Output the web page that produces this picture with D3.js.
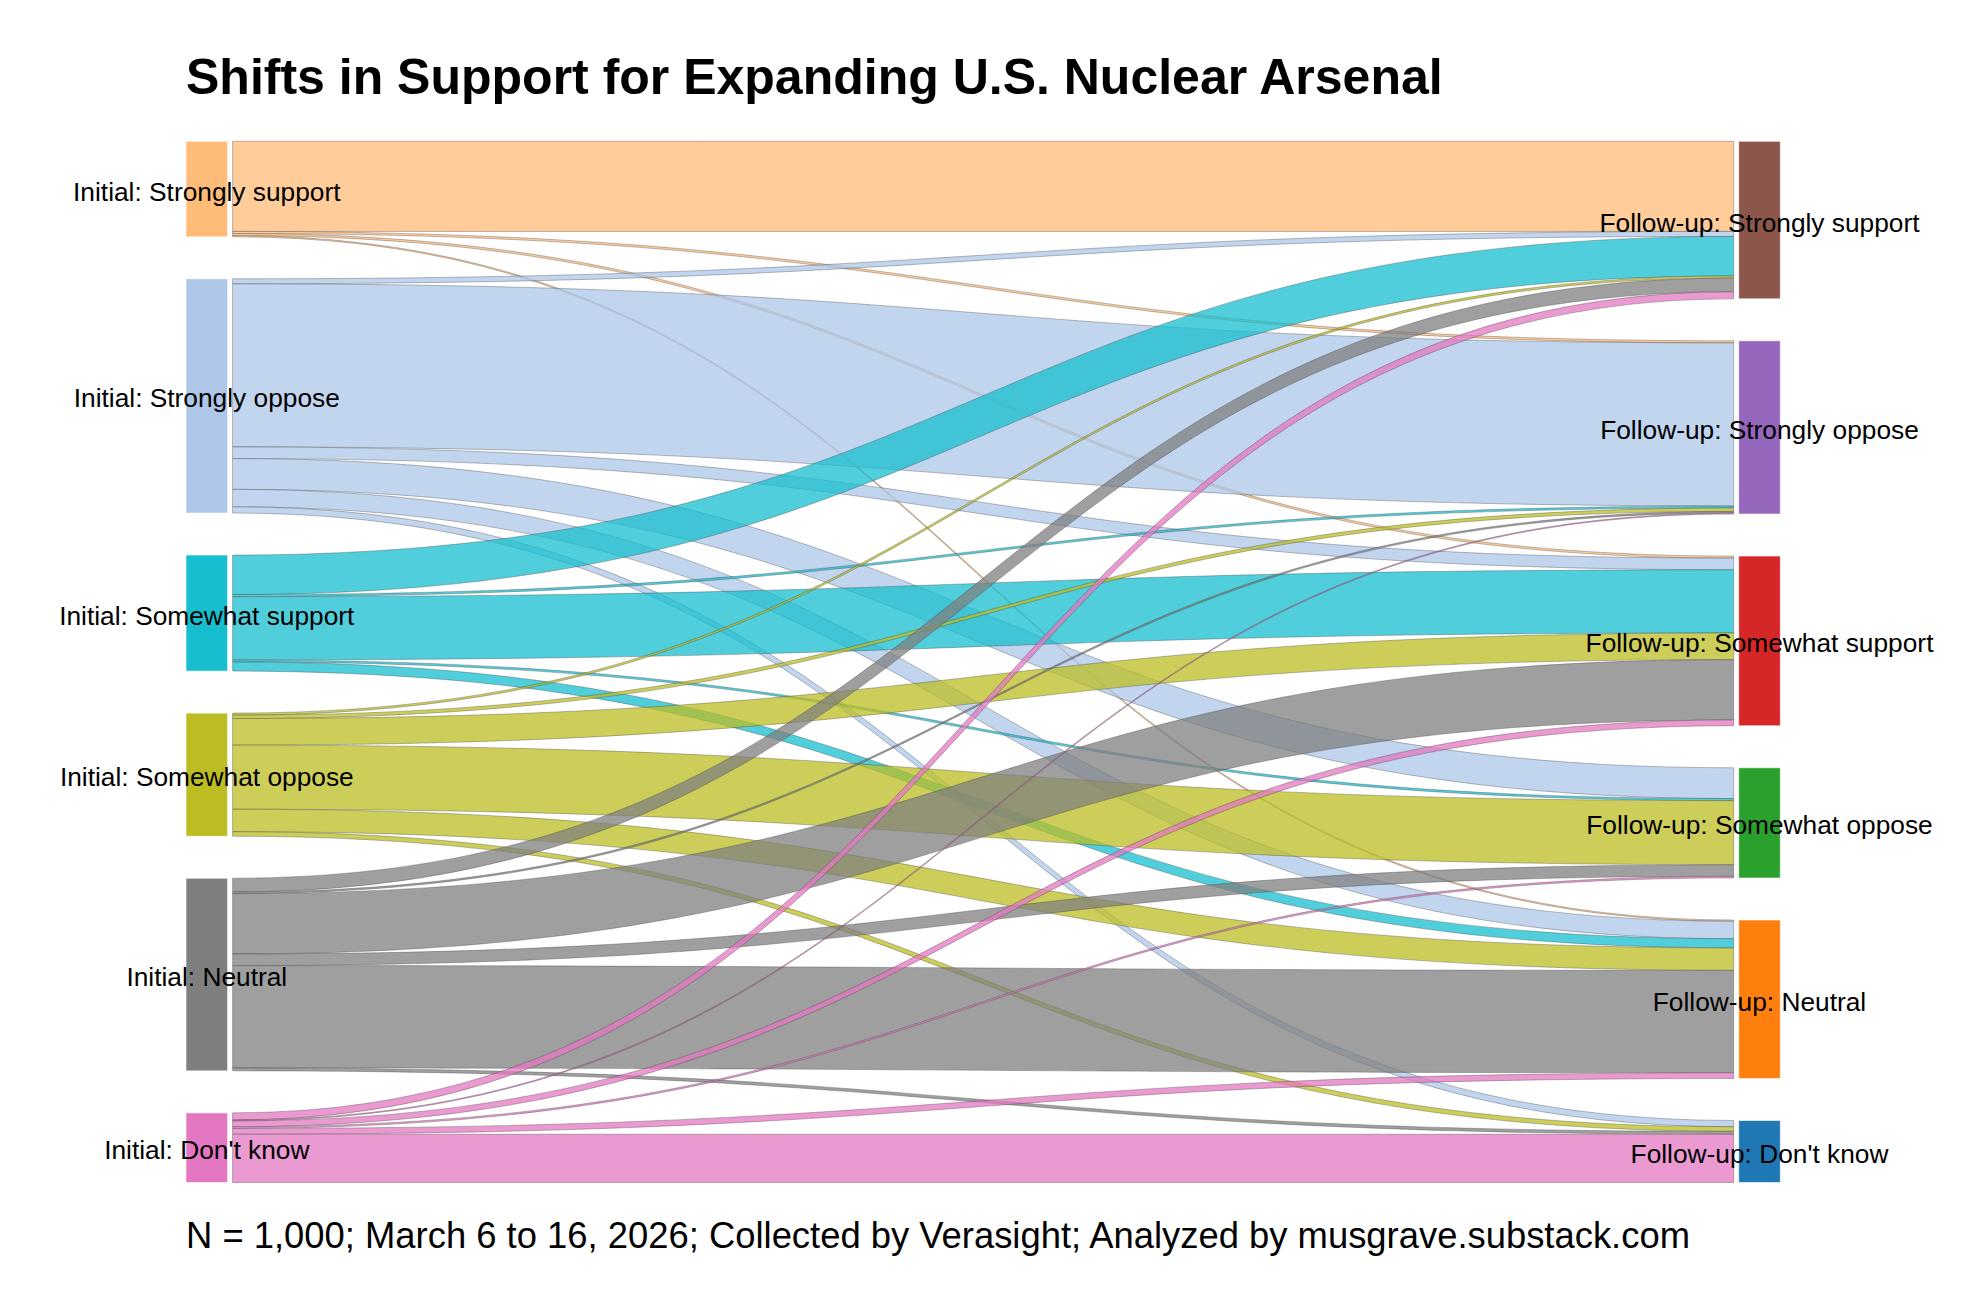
<!DOCTYPE html>
<html>
<head>
<meta charset="utf-8">
<script src="https://cdn.jsdelivr.net/npm/d3@7"></script>
<style>
  html, body { margin: 0; padding: 0; background: #fff; }
  svg { display: block; }
  text { font-family: "Liberation Sans", Arial, Helvetica, sans-serif; }
</style>
</head>
<body>
<svg id="chart" width="1966" height="1310"></svg>
<script>
// ---- Data ----
const initialLabels = [
  "Initial: Strongly support", "Initial: Strongly oppose", "Initial: Somewhat support",
  "Initial: Somewhat oppose", "Initial: Neutral", "Initial: Don't know"
];
const followupLabels = [
  "Follow-up: Strongly support", "Follow-up: Strongly oppose", "Follow-up: Somewhat support",
  "Follow-up: Somewhat oppose", "Follow-up: Neutral", "Follow-up: Don't know"
];
// flows from each initial answer to follow-up answers (order of followupLabels), respondents out of 1,000
const fromStronglySupport = [108.3, 2.5, 2.5, 0, 1.5, 0];
const fromStronglyOppose  = [6, 196, 14, 37, 21, 7.5];
const fromSomewhatSupport = [47.5, 2.5, 76, 2.5, 11, 0];
const fromSomewhatOppose  = [2.5, 4, 32, 77, 27, 5.5];
const fromNeutral         = [16.5, 2, 72.5, 14, 123, 3.5];
const fromDontKnow        = [8.5, 1.2, 7, 2, 7, 58];
const flowRows = [fromStronglySupport, fromStronglyOppose, fromSomewhatSupport,
                  fromSomewhatOppose, fromNeutral, fromDontKnow];

const titleText = "Shifts in Support for Expanding U.S. Nuclear Arsenal";
const footerText = "N = 1,000; March 6 to 16, 2026; Collected by Verasight; Analyzed by musgrave.substack.com";

// ---- Styles ----
const initialColors  = ["#ffbb78", "#aec7e8", "#17becf", "#bcbd22", "#7f7f7f", "#e377c2"];
const followupColors = ["#8c564b", "#9467bd", "#d62728", "#2ca02c", "#ff7f0e", "#1f77b4"];

const svg = d3.select("#chart");
const yTop = 141.3, yBottom = 1182.5, nodePad = 42, nodeW = 41.6, linkGap = 5;

const leftTotals = flowRows.map(r => d3.sum(r));
const rightTotals = followupLabels.map((_, j) => d3.sum(flowRows, r => r[j]));
const maxSum = Math.max(d3.sum(leftTotals), d3.sum(rightTotals));

const xCol = d3.scaleLinear().domain([0, 1]).range([186, 1738.7]);
const ky = d3.scaleLinear().domain([0, maxSum]).range([0, (yBottom - yTop) - nodePad * 5]);

function buildColumn(labels, totals, colors, col) {
  const sumPx = d3.sum(totals, t => ky(t));
  const pad = ((yBottom - yTop) - sumPx) / (labels.length - 1);
  let y = yTop;
  return labels.map((lab, i) => {
    const h = ky(totals[i]);
    const n = { label: lab, color: colors[i], x0: xCol(col), x1: xCol(col) + nodeW, y0: y, y1: y + h, cursor: y };
    y += h + pad;
    return n;
  });
}
const leftNodes = buildColumn(initialLabels, leftTotals, initialColors, 0);
const rightNodes = buildColumn(followupLabels, rightTotals, followupColors, 1);

// links: source offsets ordered by target, target offsets ordered by source
const links = [];
flowRows.forEach((row, i) => row.forEach((v, j) => {
  if (v > 0) links.push({ s: i, t: j, value: v, w: ky(v) });
}));
links.forEach(l => { const n = leftNodes[l.s]; l.sy = n.cursor; n.cursor += l.w; });
followupLabels.forEach((_, j) => {
  links.filter(l => l.t === j).sort((a, b) => a.s - b.s).forEach(l => {
    const n = rightNodes[j]; l.ty = n.cursor; n.cursor += l.w;
  });
});

function ribbon(l) {
  const x0 = leftNodes[l.s].x1 + linkGap, x1 = rightNodes[l.t].x0 - linkGap;
  const xi = d3.interpolateNumber(x0, x1);
  const c0 = xi(0.5), c1 = xi(0.5);
  const y0t = l.sy, y0b = l.sy + l.w, y1t = l.ty, y1b = l.ty + l.w;
  return `M${x0},${y0t}C${c0},${y0t} ${c1},${y1t} ${x1},${y1t}L${x1},${y1b}C${c1},${y1b} ${c0},${y0b} ${x0},${y0b}Z`;
}

svg.append("g").attr("class", "links")
  .selectAll("path").data(links).join("path")
  .attr("d", ribbon)
  .attr("fill", l => initialColors[l.s])
  .attr("fill-opacity", 0.75)
  .attr("stroke", "#444")
  .attr("stroke-opacity", 0.6)
  .attr("stroke-width", 0.6);

const allNodes = leftNodes.concat(rightNodes);
svg.append("g").attr("class", "nodes")
  .selectAll("rect").data(allNodes).join("rect")
  .attr("x", d => d.x0).attr("y", d => d.y0)
  .attr("width", d => d.x1 - d.x0).attr("height", d => d.y1 - d.y0)
  .attr("fill", d => d.color)
  .attr("stroke", "#ffffff").attr("stroke-opacity", 0.6).attr("stroke-width", 1);

svg.append("g").attr("class", "labels")
  .selectAll("text").data(allNodes).join("text")
  .attr("x", d => (d.x0 + d.x1) / 2)
  .attr("y", d => (d.y0 + d.y1) / 2)
  .attr("dy", "0.44em")
  .attr("text-anchor", "middle")
  .attr("font-size", 26.3)
  .attr("fill", "#000")
  .text(d => d.label);

svg.append("text")
  .attr("x", 186).attr("y", 94)
  .attr("font-size", 50).attr("font-weight", "bold").attr("fill", "#000")
  .text(titleText);

svg.append("text")
  .attr("x", 186).attr("y", 1248)
  .attr("font-size", 36.4).attr("fill", "#000")
  .text(footerText);
</script>
</body>
</html>
